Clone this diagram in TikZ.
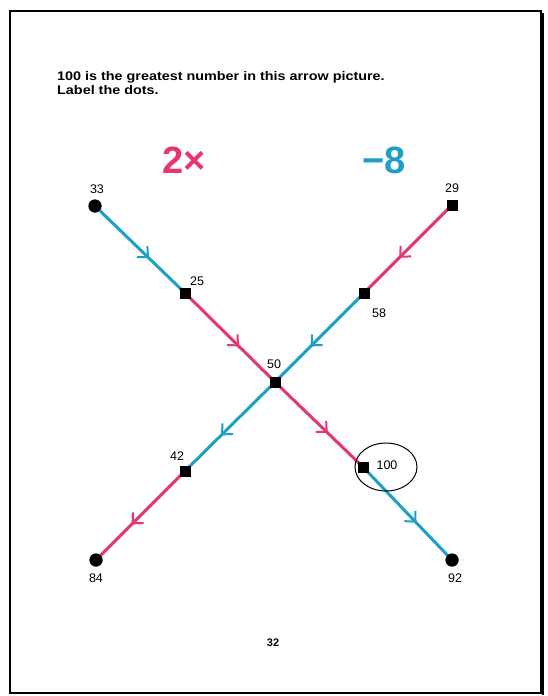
\documentclass[tikz,border=0pt]{standalone}
\usepackage{fontspec}
\setmainfont{Liberation Sans}
\newfontfamily\titlefont[FakeStretch=1.15]{Liberation Sans Bold}
\usetikzlibrary{arrows.meta,decorations.markings}
\definecolor{pinkc}{RGB}{232,52,112}
\definecolor{bluec}{RGB}{28,160,200}
\tikzset{
  x=1pt,y=-1pt,
  sq/.style={fill=black,minimum size=11pt,inner sep=0pt,rectangle},
  rd/.style={fill=black,minimum size=13pt,inner sep=0pt,circle},
  lab/.style={font=\fontsize{12.5}{13}\selectfont,inner sep=0pt},
  seg/.style={line width=3pt,postaction={decorate},decoration={markings,mark=at position 0.6 with {\arrow[line width=2pt]{Straight Barb[length=8pt,width=15pt]}}}},
  pinkseg/.style={seg,draw=pinkc,color=pinkc},
  blueseg/.style={seg,draw=bluec,color=bluec}
}
\begin{document}
\begin{tikzpicture}
\useasboundingbox (0,0) rectangle (547,696);
\draw[line width=2pt] (10,11) rectangle (541,693);
\draw[line width=2pt] (543,13) -- (543,695);
% title
\node[anchor=north west,align=left,inner sep=0pt,font=\titlefont\fontsize{12.5}{14}\selectfont] (title) at (57,71) {100 is the greatest number in this arrow picture.\\Label the dots.};
% operators
\node[text=pinkc,font=\fontsize{38}{38}\selectfont\bfseries,inner sep=0pt] (op1) at (184,160) {2×};
\node[text=bluec,font=\fontsize{38}{38}\selectfont\bfseries,inner sep=0pt] (op2) at (384,160) {−8};
% dots
\node[rd] (a) at (95,206) {};
\node[sq] (b) at (185,293) {};
\node[sq] (c) at (275,382) {};
\node[sq] (d) at (363,467) {};
\node[rd] (e) at (452,560) {};
\node[sq] (f) at (452,205) {};
\node[sq] (g) at (364,293) {};
\node[sq] (h) at (185,471) {};
\node[rd] (i) at (96,560) {};
% connectors
\draw[blueseg] (a.center) -- (b.center);
\draw[pinkseg] (b.center) -- (c.center);
\draw[pinkseg] (c.center) -- (d.center);
\draw[blueseg] (d.center) -- (e.center);
\draw[pinkseg] (f.center) -- (g.center);
\draw[blueseg] (g.center) -- (c.center);
\draw[blueseg] (c.center) -- (h.center);
\draw[pinkseg] (h.center) -- (i.center);
% redraw dots on top
\foreach \n/\s in {a/rd,b/sq,c/sq,d/sq,e/rd,f/sq,g/sq,h/sq,i/rd}{\node[\s] at (\n) {};}
% labels
\node[lab] (la) at (97,189) {33};
\node[lab] (lb) at (197,281) {25};
\node[lab] (lc) at (274,364) {50};
\node[lab] (lg) at (379,313) {58};
\node[lab] (lf) at (452,188) {29};
\node[lab] (lh) at (177,456) {42};
\node[lab] (ld) at (387,465) {100};
\node[lab] (li) at (96,578) {84};
\node[lab] (le) at (455,578) {92};
\draw[line width=1pt] (386,467) ellipse [x radius=31,y radius=24];
\node[lab,font=\fontsize{11}{12}\selectfont\bfseries] (pg) at (273,643) {32};
\end{tikzpicture}
\end{document}
